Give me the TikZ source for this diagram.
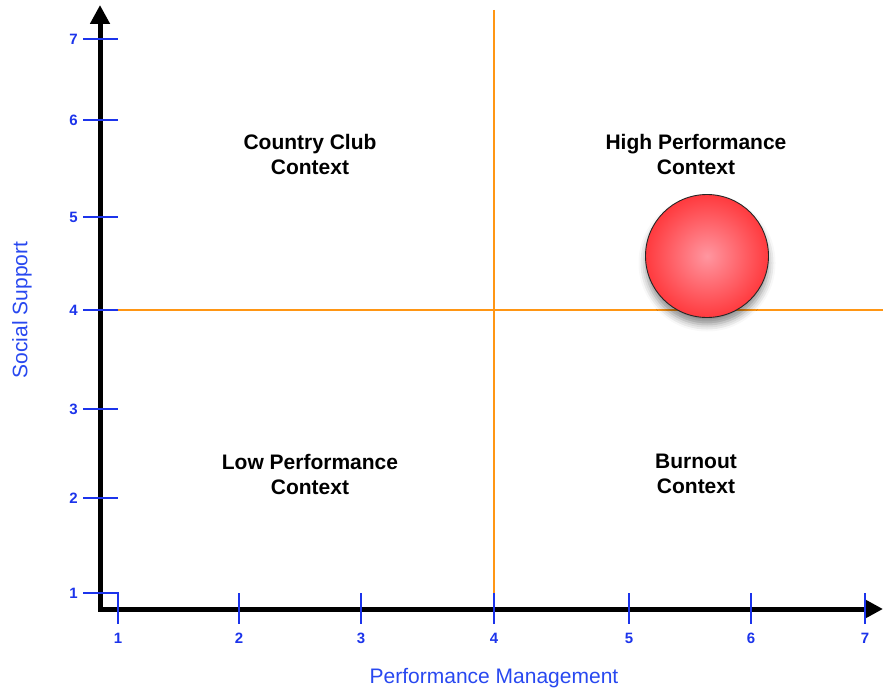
\documentclass[tikz,border=0pt]{standalone}
\usepackage{fontspec}
\setmainfont{Liberation Sans}
\usetikzlibrary{arrows.meta,shadings,shadows.blur}
\definecolor{tickblue}{RGB}{28,52,235}
\definecolor{labelblue}{RGB}{40,72,240}
\definecolor{quadorange}{RGB}{255,150,20}
\definecolor{ballred}{RGB}{255,58,62}
\definecolor{ballpink}{RGB}{255,150,160}
\tikzset{
  axisline/.style={line width=5pt, black, line join=miter, {Triangle[length=19pt,width=19pt]}-{Triangle[length=19pt,width=19pt]}},
  tickline/.style={line width=2.4pt, tickblue},
  divider/.style={line width=2.3pt, quadorange},
  ticklabel/.style={text=tickblue, font=\fontsize{15}{17}\selectfont\bfseries, inner sep=0pt},
  axislabel/.style={text=labelblue, font=\fontsize{21}{25}\selectfont, inner sep=0pt},
  quadlabel/.style={align=center, font=\fontsize{21}{25}\selectfont\bfseries, inner sep=0pt},
}
\begin{document}
\begin{tikzpicture}[x=1pt,y=-1pt]
\useasboundingbox (0,0) rectangle (883,690);
% coordinates
\coordinate (ytop) at (100,5);
\coordinate (O) at (100,609);
\coordinate (xend) at (883,609);
% dividers
\coordinate (hl) at (103,310);
\coordinate (hr) at (883,310);
\coordinate (vt) at (494,10);
\coordinate (vb) at (494,593);
\draw[divider] (hl) -- (hr);
\draw[divider] (vt) -- (vb);
% ball
\node[circle, minimum size=123pt, inner sep=0pt, draw=black!85, line width=0.9pt,
  inner color=ballpink, outer color=ballred,
  blur shadow={shadow xshift=0pt, shadow yshift=-7pt, shadow blur radius=7pt, shadow opacity=45}] (ball) at (707,256) {};
% axes
\draw[axisline] (ytop) -- (O) -- (xend);
% y ticks
\foreach \v/\y in {2/498,3/409,4/310,5/217,6/120,7/39}{
  \coordinate (ya\v) at (83,\y);
  \coordinate (yb\v) at (118,\y);
  \draw[tickline] (ya\v) -- (yb\v);
  \node[ticklabel, anchor=east] (yl\v) at (78,\y) {\v};
}
% corner tick 1
\coordinate (ya1) at (83,593);
\coordinate (yb1) at (118,593);
\coordinate (xb1) at (118,624);
\draw[tickline] (ya1) -- (yb1) -- (xb1);
\node[ticklabel, anchor=east] (yl1) at (78,593) {1};
% x ticks
\foreach \v/\x in {2/239,3/361,4/494,5/629,6/751,7/865}{
  \coordinate (xa\v) at (\x,593);
  \coordinate (xb\v) at (\x,624);
  \draw[tickline] (xa\v) -- (xb\v);
}
\foreach \v/\x in {1/118,2/239,3/361,4/494,5/629,6/751,7/865}{
  \node[ticklabel] (xl\v) at (\x,638) {\v};
}
% axis labels
\node[axislabel, rotate=90] (ylab) at (22,310) {Social Support};
\node[axislabel] (xlab) at (494,678) {Performance Management};
% quadrant labels
\node[quadlabel] (cc) at (310,154) {Country Club\\Context};
\node[quadlabel] (hp) at (696,154) {High Performance\\Context};
\node[quadlabel] (lp) at (310,474) {Low Performance\\Context};
\node[quadlabel] (bo) at (696,474) {Burnout\\Context};
\end{tikzpicture}
\end{document}
